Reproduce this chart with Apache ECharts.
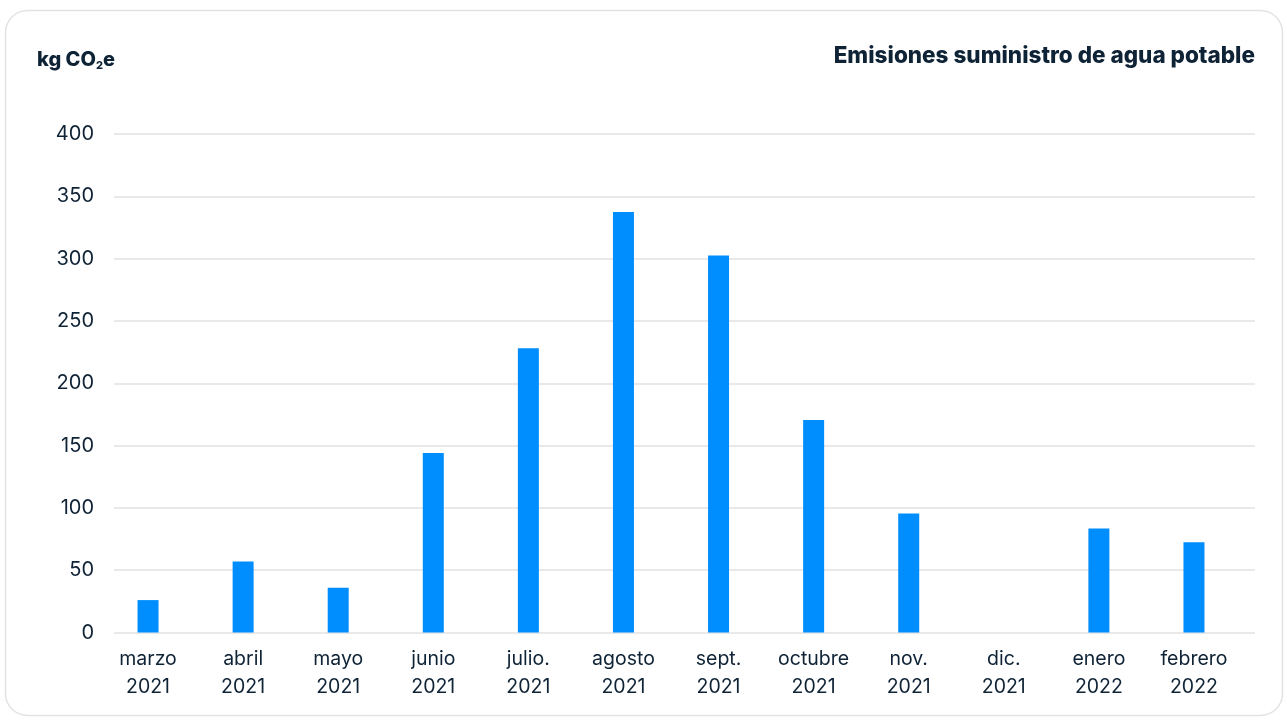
<!DOCTYPE html>
<html>
<head>
<meta charset="utf-8">
<script src="https://cdn.jsdelivr.net/npm/echarts@6/dist/echarts.min.js"></script>
<style>
  html, body { margin: 0; padding: 0; background: #ffffff; }
  #chart { width: 1287px; height: 728px; }
</style>
</head>
<body>
<div id="chart"></div>
<script>
// Monthly emissions from drinking-water supply (kg CO2e)
const months = ['marzo', 'abril', 'mayo', 'junio', 'julio.', 'agosto', 'sept.', 'octubre', 'nov.', 'dic.', 'enero', 'febrero'];
const years = ['2021', '2021', '2021', '2021', '2021', '2021', '2021', '2021', '2021', '2021', '2022', '2022'];
const emissions = [26, 57, 36, 144, 228, 337.5, 302.5, 170.5, 95.5, 0, 83.5, 72.5];
const yTicks = [0, 50, 100, 150, 200, 250, 300, 350, 400];

const categories = months.map((m, i) => m + '\n' + years[i]);
const textColor = '#0f2336';
const fontFamily = 'Inter, "Noto Sans", sans-serif';

const chart = echarts.init(document.getElementById('chart'), null, { renderer: 'canvas' });

chart.setOption({
  backgroundColor: '#ffffff',
  animation: false,
  graphic: [
    {
      type: 'rect',
      shape: { x: 5.5, y: 10.5, width: 1277, height: 705, r: 22 },
      style: { fill: 'none', stroke: '#e3e3e3', lineWidth: 1.5 },
      z: -10
    },
    {
      type: 'text',
      x: 37,
      y: 60,
      style: {
        text: '{b|kg CO}{s|2}{b|e}',
        verticalAlign: 'middle',
        rich: {
          b: { fontFamily: fontFamily, fontSize: 20, fontWeight: 800, fill: textColor },
          s: { fontFamily: fontFamily, fontSize: 11, fontWeight: 800, fill: textColor, padding: [12, 0, 0, 0] }
        }
      }
    },
    {
      type: 'text',
      x: 1255,
      y: 56,
      style: {
        text: 'Emisiones suministro de agua potable',
        align: 'right',
        verticalAlign: 'middle',
        fontFamily: fontFamily,
        fontSize: 22.5,
        fontWeight: 800,
        fill: textColor
      }
    }
  ],
  grid: [
    { left: 114, top: 134, width: 1141, height: 498.5 },
    { left: 100.5, top: 134, width: 1141, height: 498.5 }
  ],
  xAxis: [
    {
      type: 'category',
      gridIndex: 0,
      data: categories,
      show: false
    },
    {
      type: 'category',
      gridIndex: 1,
      data: categories,
      axisLine: { show: false },
      axisTick: { show: false },
      axisLabel: {
        interval: 0,
        margin: 13,
        fontFamily: fontFamily,
        fontSize: 19.5,
        lineHeight: 28,
        color: textColor
      }
    }
  ],
  yAxis: [
    {
      type: 'value',
      gridIndex: 0,
      min: 0,
      max: 400,
      interval: 50,
      axisLine: { show: false },
      axisTick: { show: false },
      splitLine: { lineStyle: { color: '#e2e2e2', width: 1.5 } },
      axisLabel: {
        margin: 20,
        fontFamily: fontFamily,
        fontSize: 20,
        color: textColor,
        formatter: v => yTicks.includes(v) ? String(v) : ''
      }
    },
    {
      type: 'value',
      gridIndex: 1,
      min: 0,
      max: 400,
      interval: 50,
      show: false,
      splitLine: { show: false }
    }
  ],
  series: [
    {
      type: 'bar',
      xAxisIndex: 1,
      yAxisIndex: 1,
      data: emissions,
      barWidth: 21,
      itemStyle: { color: '#008eff' }
    }
  ]
});
</script>
</body>
</html>
